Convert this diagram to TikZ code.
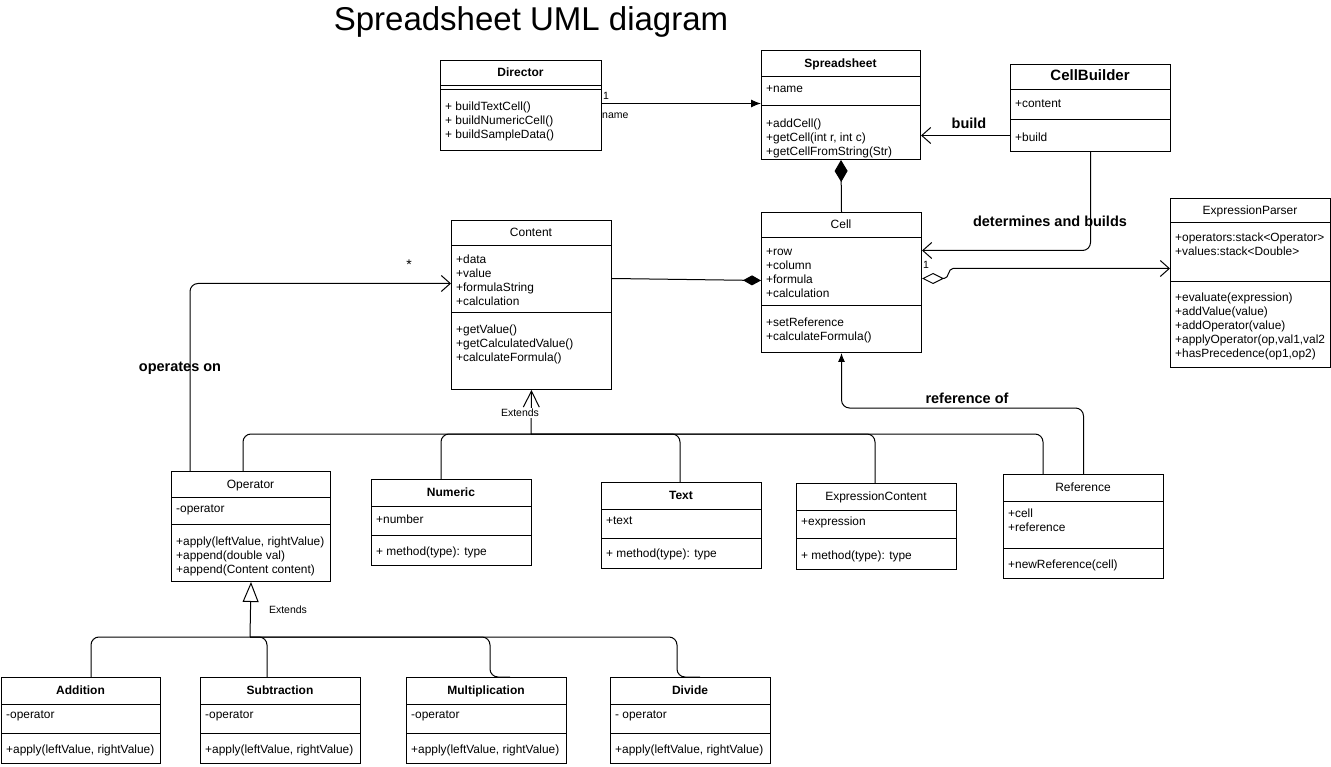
\documentclass[tikz,border=0pt]{standalone}
\usepackage{fontspec}
\setmainfont{Liberation Sans}
\usetikzlibrary{arrows.meta}
\newcommand\umlbox[8]{%
  \node[box, minimum width=#4pt, minimum height=#5pt] (#1) at (#2,#3) {};
  \draw[ln] (#2,#6) -- ++(#4,0);
  \draw[ln] (#2,#7) -- ++(#4,0);
  \node[inner sep=0pt, text height=10pt, text depth=2pt] (#1-t) at ({#2+#4/2},{(#3+#6)/2}) {#8};
}
\begin{document}
\begin{tikzpicture}[x=1pt,y=-1pt,
  box/.style={draw, line width=1pt, anchor=north west, inner sep=0pt},
  ln/.style={line width=1pt},
  txt/.style={font=\fontsize{11.9}{14}\selectfont, anchor=west, inner sep=0pt, align=left},
  lbl/.style={font=\fontsize{14.5}{17}\selectfont\bfseries, inner sep=0pt},
  small/.style={font=\fontsize{10.5}{12}\selectfont, inner sep=0pt},
  conn/.style={line width=1pt, rounded corners=8pt},
  openarr/.style={-{Straight Barb[length=9pt,width=16pt]}},
]
\useasboundingbox (0,0) rectangle (1331,767);
\fill[white] (0,0) rectangle (1331,767);

\node[font=\fontsize{33}{36}\selectfont, inner sep=0pt, anchor=base] (title) at (531,31) {Spreadsheet UML diagram};

% classes
\umlbox{Director}{440}{60}{161}{90}{86}{90}{\fontsize{12}{14}\selectfont\bfseries Director}
\node[txt] (Director-m) at (445,121) {+ buildTextCell()\\+ buildNumericCell()\\+ buildSampleData()};

\umlbox{Spreadsheet}{761}{50}{159}{109}{77}{106}{\fontsize{12}{14}\selectfont\bfseries Spreadsheet}
\node[txt] (Spreadsheet-a) at (766,89) {+name};
\node[txt] (Spreadsheet-m) at (766,138) {+addCell()\\+getCell(int r, int c)\\+getCellFromString(Str)};

\umlbox{CellBuilder}{1010}{64}{160}{87}{90}{120}{\fontsize{15}{17}\selectfont\bfseries CellBuilder}
\node[txt] (CellBuilder-a) at (1015,104) {+content};
\node[txt] (CellBuilder-m) at (1015,137) {+build};

\umlbox{ExpressionParser}{1170}{198}{160}{169}{223}{282}{\fontsize{12}{14}\selectfont ExpressionParser}
\node[txt] (ExpressionParser-a) at (1175,244) {+operators:stack<Operator>\\+values:stack<Double>};
\node[txt] (ExpressionParser-m) at (1175,326) {+evaluate(expression)\\+addValue(value)\\+addOperator(value)\\+applyOperator(op,val1,val2\\+hasPrecedence(op1,op2)};

\umlbox{Content}{451}{220}{160}{169}{246}{313}{\fontsize{12}{14}\selectfont Content}
\node[txt] (Content-a) at (456,280) {+data\\+value\\+formulaString\\+calculation};
\node[txt] (Content-m) at (456,344) {+getValue()\\+getCalculatedValue()\\+calculateFormula()};

\umlbox{Cell}{761}{212}{160}{140}{238}{306}{\fontsize{12}{14}\selectfont Cell}
\node[txt] (Cell-a) at (766,273) {+row\\+column\\+formula\\+calculation};
\node[txt] (Cell-m) at (766,330) {+setReference\\+calculateFormula()};

\umlbox{Operator}{171}{471}{159}{110}{497}{524}{\fontsize{12}{14}\selectfont Operator}
\node[txt] (Operator-a) at (176,510) {-operator};
\node[txt] (Operator-m) at (176,556) {+apply(leftValue, rightValue)\\+append(double val)\\+append(Content content)};

\umlbox{Numeric}{371}{479}{160}{86}{506}{535}{\fontsize{12}{14}\selectfont\bfseries Numeric}
\node[txt] (Numeric-a) at (376,519) {+number};
\node[txt] (Numeric-m) at (376,552) {+ method(type): type};

\umlbox{Text}{601}{482}{160}{86}{509}{538}{\fontsize{12}{14}\selectfont\bfseries Text}
\node[txt] (Text-a) at (606,521) {+text};
\node[txt] (Text-m) at (606,554) {+ method(type): type};

\umlbox{ExpressionContent}{796}{483}{160}{86}{510}{538}{\fontsize{12}{14}\selectfont ExpressionContent}
\node[txt] (ExpressionContent-a) at (801,522) {+expression};
\node[txt] (ExpressionContent-m) at (801,556) {+ method(type): type};

\umlbox{Reference}{1003}{474}{160}{104}{501}{548}{\fontsize{12}{14}\selectfont Reference}
\node[txt] (Reference-a) at (1008,520) {+cell\\+reference};
\node[txt] (Reference-m) at (1008,565) {+newReference(cell)};

\umlbox{Addition}{1}{677}{159}{86}{704}{733}{\fontsize{12}{14}\selectfont\bfseries Addition}
\node[txt] (Addition-a) at (6,716) {-operator};
\node[txt] (Addition-m) at (6,750) {+apply(leftValue, rightValue)};

\umlbox{Subtraction}{200}{677}{160}{86}{704}{733}{\fontsize{12}{14}\selectfont\bfseries Subtraction}
\node[txt] (Subtraction-a) at (205,716) {-operator};
\node[txt] (Subtraction-m) at (205,750) {+apply(leftValue, rightValue)};

\umlbox{Multiplication}{406}{677}{160}{86}{704}{733}{\fontsize{12}{14}\selectfont\bfseries Multiplication}
\node[txt] (Multiplication-a) at (411,716) {-operator};
\node[txt] (Multiplication-m) at (411,750) {+apply(leftValue, rightValue)};

\umlbox{Divide}{610}{677}{160}{86}{704}{733}{\fontsize{12}{14}\selectfont\bfseries Divide}
\node[txt] (Divide-a) at (615,716) {- operator};
\node[txt] (Divide-m) at (615,750) {+apply(leftValue, rightValue)};

% connectors
\draw[ln, -{Latex[length=10pt,width=8pt]}] ([yshift=2pt]Director.east) -- ([yshift=2pt]Director.east -| Spreadsheet.west);
\node[small, anchor=west] (m1) at (603,96) {1};
\node[small, anchor=west] (m2) at (602,116) {name};

\draw[ln, openarr] ([yshift=-27.5pt]CellBuilder.west) -- ([yshift=-27.5pt]CellBuilder.west -| Spreadsheet.east);
\node[lbl] (l-build) at (969,123) {build};

\draw[conn, openarr] (CellBuilder.south) |- ([yshift=32pt]Cell.east);
\node[lbl] (l-det) at (1050,221) {determines and builds};

\draw[ln, {Diamond[open,length=22pt,width=11pt]}-{Straight Barb[length=9pt,width=16pt]}]
  ([yshift=4pt]Cell.east) -- ++(22,0) to[out=0,in=180] ++(9,-10) -- ([yshift=14.5pt]ExpressionParser.west);
\node[small, anchor=west] (m3) at (923,265) {1};

\draw[ln, -{Diamond[length=22pt,width=13pt]}] (Cell.north) -- (Spreadsheet.south);

\draw[ln, -{Diamond[length=18pt,width=10pt]}] ([yshift=26.5pt]Content.east) -- ([yshift=2pt]Cell.west);

\draw[conn, -{Latex[length=9pt,width=7pt]}] (Reference.north) -- ++(0,-66) -| (Cell.south);
\node[lbl] (l-ref) at (967,398) {reference of};

\draw[conn, openarr] ([xshift=19pt]Operator.north west) |- ([yshift=21.5pt]Content.west);
\node[font=\fontsize{14}{16}\selectfont, inner sep=0pt] (m4) at (409,265) {*};
\node[lbl] (l-op) at (180,368) {operates on};

% generalisation to Content
\coordinate (jc) at (531,434);
\draw[ln, -{Straight Barb[length=16pt,width=16pt]}] (jc) -- (Content.south);
\node[small, fill=white, inner sep=1pt] (e1) at (520,413) {Extends};
\draw[conn] ([xshift=72pt]Operator.north west) |- (jc);
\draw[conn] ([xshift=70pt]Numeric.north west) |- (jc);
\draw[conn] ([xshift=79pt]Text.north west) |- (jc);
\draw[conn] ([xshift=79pt]ExpressionContent.north west) |- (jc);
\draw[conn] ([xshift=40pt]Reference.north west) |- (jc);

% generalisation to Operator
\coordinate (jo) at (250,637);
\draw[ln, -{Triangle[open,length=20pt,width=16pt]}] (jo) -- (Operator.south);
\node[small] (e2) at (288,610) {Extends};
\draw[conn] ([xshift=90pt]Addition.north west) |- (jo);
\draw[conn] ([xshift=67pt]Subtraction.north west) |- (jo);
\draw[conn] ([xshift=104pt]Multiplication.north west) -- ++(-20,0) |- (jo);
\draw[conn] ([xshift=90pt]Divide.north west) -- ++(-23,0) |- (jo);
\end{tikzpicture}
\end{document}
